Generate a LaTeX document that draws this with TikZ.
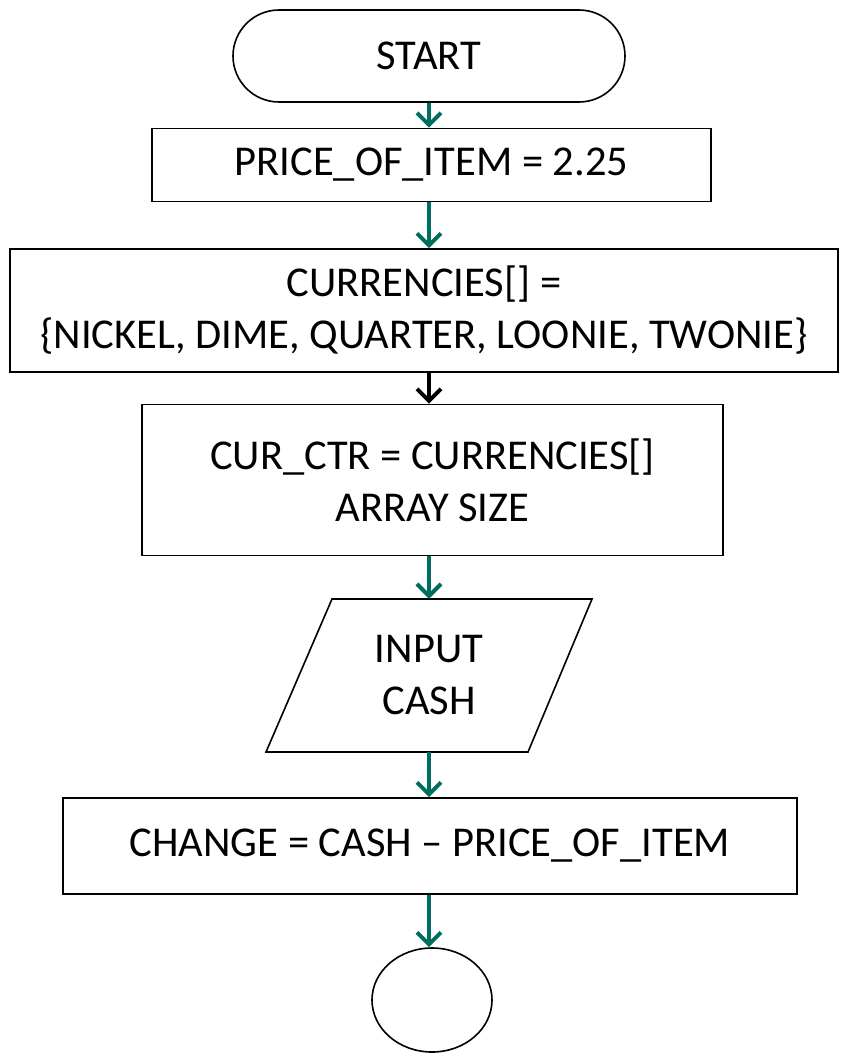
\documentclass[tikz,border=0pt]{standalone}
\usepackage{fontspec}
\setmainfont{Carlito}
\usetikzlibrary{arrows.meta,shapes.misc,shapes.geometric}
\definecolor{flowteal}{RGB}{0,110,94}
\tikzset{
  txt/.style={font=\fontsize{42.5}{52}\selectfont, align=center, inner sep=0pt},
  procbox/.style={txt, draw=black, line width=1.6pt, rectangle},
  termbox/.style={txt, draw=black, line width=1.6pt, rounded rectangle},
  iobox/.style={txt, draw=none, rectangle},
  endbox/.style={draw=black, line width=1.6pt, ellipse, inner sep=0pt},
  flow/.style={line width=4pt, draw=flowteal, -{Straight Barb[length=12pt,width=24pt]}},
  flowblack/.style={flow, draw=black},
}
\begin{document}
\begin{tikzpicture}[x=1pt,y=-1pt]
\useasboundingbox (0,0) rectangle (848,1054);

% flowchart boxes, top to bottom
\node[termbox, minimum width=392pt, minimum height=92pt] (start) at (429,56) {START};
\node[procbox, minimum width=559pt, minimum height=73pt] (price) at (431.5,165) {PRICE\_OF\_ITEM = 2.25};
\node[procbox, minimum width=828pt, minimum height=123pt] (curr) at (424,310.5)
  {CURRENCIES[] =\\\{NICKEL, DIME, QUARTER, LOONIE, TWONIE\}};
\node[procbox, minimum width=581pt, minimum height=151pt] (ctr) at (432.5,480)
  {CUR\_CTR = CURRENCIES[]\\ARRAY SIZE};
\node[iobox, minimum width=200pt, minimum height=153pt] (input) at (429,675.5) {INPUT\\CASH};
% input/output parallelogram around the INPUT CASH text
\draw[line width=1.6pt, line join=miter]
  (332,599) -- (592,599) -- (528,752) -- (266,752) -- cycle;
\node[procbox, minimum width=734pt, minimum height=96pt] (change) at (430,846)
  {CHANGE = CASH -- PRICE\_OF\_ITEM};
\node[endbox, minimum width=120pt, minimum height=104pt] (stop) at (432,1000) {};

% connectors
\draw[flow] (start.south) -- (start.south |- price.north);
\draw[flow] (price.south -| start.south) -- (start.south |- curr.north);
\draw[flowblack] (curr.south -| start.south) -- (start.south |- ctr.north);
\draw[flow] (ctr.south -| start.south) -- (start.south |- input.north);
\draw[flow] (input.south -| start.south) -- (start.south |- change.north);
\draw[flow] (change.south -| start.south) -- (start.south |- stop.north);
\end{tikzpicture}
\end{document}
